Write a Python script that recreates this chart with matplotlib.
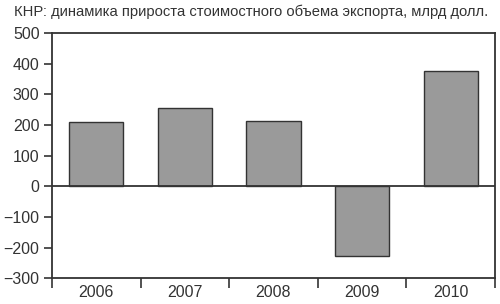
import numpy as np
import matplotlib.pyplot as plt

plt.rcParams["font.family"] = ["Liberation Sans", "DejaVu Sans"]

years = ["2006", "2007", "2008", "2009", "2010"]
growth = [209, 254, 214, -228, 378]
yticks = [-300, -200, -100, 0, 100, 200, 300, 400, 500]

fig = plt.figure(figsize=(5, 3.04), dpi=100)
ax = fig.add_axes([0.104, 0.085, 0.886, 0.806])

x = np.arange(len(years))
ax.bar(x, growth, width=0.61, color="#9a9a9a", edgecolor="#333333", linewidth=1.0, zorder=2)
ax.axhline(0, color="#333333", linewidth=1.3, zorder=3)

ax.set_xlim(-0.5, len(years) - 0.5)
ax.set_ylim(-300, 500)
ax.set_yticks(yticks)
ax.set_yticklabels([str(v).replace("-", "\u2212") for v in yticks])

# метки между столбцами, подписи по центру
ax.set_xticks(np.arange(len(years) + 1) - 0.5)
ax.set_xticklabels([])
ax.set_xticks(x, minor=True)
ax.set_xticklabels(years, minor=True)
ax.tick_params(axis="x", which="minor", length=0, pad=5)
ax.tick_params(axis="x", which="major", length=7, width=1.2, color="#333333")
ax.tick_params(axis="y", length=6, width=1.2, color="#333333", pad=3)
ax.tick_params(which="both", labelsize=11.5, labelcolor="#333333")

for s in ax.spines.values():
    s.set_linewidth(1.3)
    s.set_color("#333333")

fig.text(0.028, 0.96, "КНР: динамика прироста стоимостного объема экспорта, млрд долл.",
         fontsize=10.6, color="#333333", va="center", ha="left")

fig.savefig("out.png", dpi=100)
